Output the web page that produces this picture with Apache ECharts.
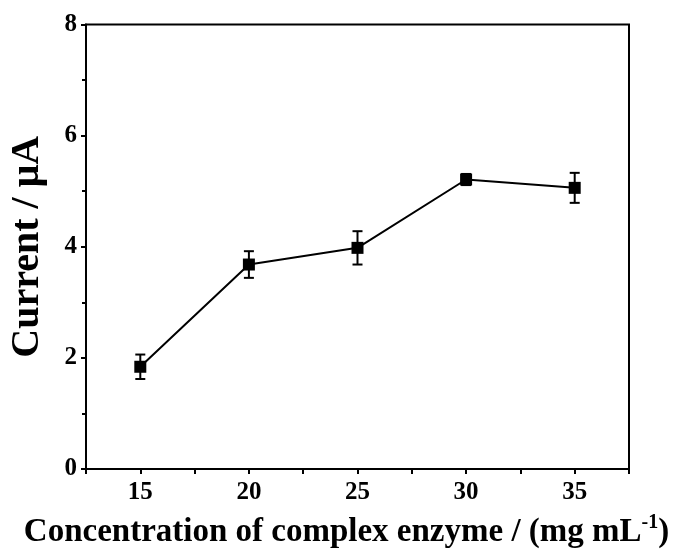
<!DOCTYPE html>
<html><head><meta charset="utf-8">
<script src="https://cdn.jsdelivr.net/npm/echarts@6/dist/echarts.min.js"></script>
<style>html,body{margin:0;padding:0;background:#fff}#c{width:683px;height:549px}</style>
</head><body><div id="c"></div>
<script>
const concentrations = [15, 20, 25, 30, 35];
const currents = [1.84, 3.68, 3.98, 5.21, 5.06];
const errors = [0.22, 0.24, 0.30, 0.10, 0.27];
const xTicks = [15, 20, 25, 30, 35];
const yTicks = [0, 2, 4, 6, 8];

const FONT = '"Liberation Serif", "Times New Roman", serif';
const chart = echarts.init(document.getElementById('c'), null, {renderer: 'canvas'});
const lineData = concentrations.map((c, i) => [c, currents[i]]);
const errData = concentrations.map((c, i) => [c, currents[i] - errors[i], currents[i] + errors[i]]);

chart.setOption({
  animation: false,
  backgroundColor: '#fff',
  grid: {left: 86, right: 54, top: 24.5, bottom: 80, containLabel: false, outerBoundsMode: 'none',
    show: true, borderColor: '#000', borderWidth: 2, backgroundColor: 'transparent'},
  xAxis: {
    type: 'value', min: 12.5, max: 37.5, interval: 2.5,
    axisLine: {show: true, lineStyle: {color: '#000', width: 2}},
    axisTick: {show: true, inside: false, length: 5, lineStyle: {color: '#000', width: 2}},
    splitLine: {show: false},
    axisLabel: {
      color: '#000', fontFamily: FONT, fontWeight: 'bold', fontSize: 25, margin: 11,
      formatter: v => xTicks.includes(v) ? String(v) : ''
    },
    name: '{t|Concentration of complex enzyme / (mg mL}{s|-1}{t|)}',
    nameLocation: 'middle', nameGap: 44,
    nameTextStyle: {
      padding: [0, 22, 0, 0],
      rich: {
        t: {fontFamily: FONT, fontWeight: 'bold', fontSize: 33, color: '#000', verticalAlign: 'bottom', lineHeight: 36},
        s: {fontFamily: FONT, fontWeight: 'bold', fontSize: 20, color: '#000', verticalAlign: 'top', lineHeight: 36, padding: [0, 0, 14, 0]}
      }
    }
  },
  yAxis: {
    type: 'value', min: 0, max: 8, interval: 2,
    axisLine: {show: true, lineStyle: {color: '#000', width: 2}},
    axisTick: {show: true, inside: false, length: 5, lineStyle: {color: '#000', width: 2}},
    minorTick: {show: true, splitNumber: 2, length: 4, lineStyle: {color: '#000', width: 2}},
    splitLine: {show: false},
    axisLabel: {
      color: '#000', fontFamily: FONT, fontWeight: 'bold', fontSize: 25, margin: 9,
      formatter: v => yTicks.includes(v) ? String(v) : ''
    },
    name: 'Current / μA', nameLocation: 'middle', nameGap: 38, nameRotate: 90,
    nameTextStyle: {fontFamily: FONT, fontWeight: 'bold', fontSize: 40, color: '#000'}
  },
  series: [
    {
      type: 'custom',
      data: errData,
      z: 3,
      renderItem: (params, api) => {
        const x = api.value(0);
        const lo = api.coord([x, api.value(1)]);
        const hi = api.coord([x, api.value(2)]);
        const hw = 5;
        const style = {stroke: '#000', lineWidth: 2};
        return {type: 'group', children: [
          {type: 'line', shape: {x1: lo[0], y1: lo[1], x2: hi[0], y2: hi[1]}, style},
          {type: 'line', shape: {x1: lo[0] - hw, y1: lo[1], x2: lo[0] + hw, y2: lo[1]}, style},
          {type: 'line', shape: {x1: hi[0] - hw, y1: hi[1], x2: hi[0] + hw, y2: hi[1]}, style}
        ]};
      }
    },
    {
      type: 'line',
      data: lineData,
      z: 4,
      symbol: 'rect', symbolSize: 12,
      lineStyle: {color: '#000', width: 2},
      itemStyle: {color: '#000'}
    }
  ]
});
</script></body></html>
